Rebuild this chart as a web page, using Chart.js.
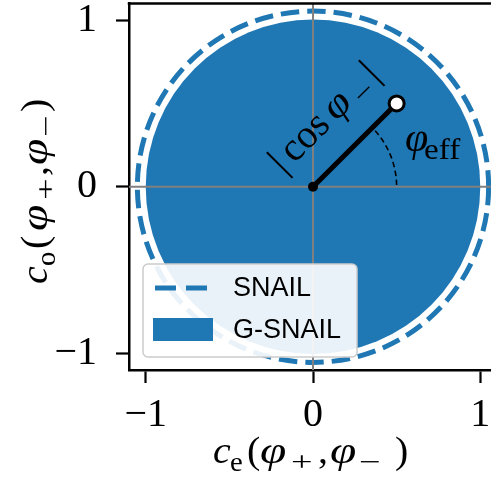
<!DOCTYPE html>
<html>
<head>
<meta charset="utf-8">
<script src="https://cdn.jsdelivr.net/npm/chart.js@4.4.0/dist/chart.umd.min.js"></script>
<style>
html,body{margin:0;padding:0;overflow:hidden;background:#fff;width:491px;height:480px;}
canvas{display:block;margin-top:-7px;}
</style>
</head>
<body>
<canvas id="c" width="510" height="487" style="width:510px;height:487px"></canvas>
<script>
// ---- data ----
const axisMin = -1.1;
const axisMax = 1.1;
const xTicks = [-1, 0, 1];
const yTicks = [-1, 0, 1];
const seriesNames = ['SNAIL', 'G-SNAIL'];
const snailRadius = [1.05];
const gsnailRadius = [1.0];
const vectorX = [0, 0.5];
const vectorY = [0, 0.5];
const arcRadius = [0.5];
const arcAngles = [0, 42];
const cosLabelPos = [0.069, 0.412];
const effLabelPos = [0.55, 0.215];

const OY = 7; // canvas is shifted up by 7px
const BLUE = '#1f77b4';
const MATH = '"Liberation Serif", "DejaVu Serif", serif';
const SANS = '"Liberation Sans", Arial, sans-serif';

function fmt(v){ return v < 0 ? '\u2212' + Math.abs(v) : String(v); }

// runs: {t, i: italic, s: subscript, x: offset along text, k: horizontal scale}
function drawRunsAt(ctx, runs, size){
  ctx.textBaseline = 'alphabetic';
  ctx.textAlign = 'left';
  for (const r of runs){
    const sz = r.s ? size * 0.72 : size;
    ctx.font = (r.i ? 'italic ' : '') + sz + 'px ' + MATH;
    ctx.save();
    ctx.translate(r.x, r.s ? size * 0.2 : 0);
    ctx.scale(r.k || 1.05, 1);
    ctx.fillText(r.t, 0, 0);
    ctx.restore();
  }
}

const xTitle = [{t:'c',i:1,x:0},{t:'e',s:1,x:17},{t:'(',x:34},{t:'\u03c6',i:1,x:47,k:1.25},{t:'+',s:1,x:78,k:1.4},{t:',',x:105},{t:'\u03c6',i:1,x:117,k:1.25},{t:'\u2212',s:1,x:146,k:1.4},{t:')',x:182}];
const yTitle = [{t:'c',i:1,x:0},{t:'o',s:1,x:18},{t:'(',x:35},{t:'\u03c6',i:1,x:53,k:1.25},{t:'+',s:1,x:84,k:1.4},{t:',',x:108},{t:'\u03c6',i:1,x:119,k:1.25},{t:'\u2212',s:1,x:147,k:1.4},{t:')',x:172}];
const cosLabel = [{t:'|',x:-4},{t:'cos',x:11,k:1.0},{t:'\u03c6',i:1,x:71,k:1.1},{t:'\u2212',s:1,x:101,k:1.2},{t:'|',x:126}];
const effLabel = [{t:'\u03c6',i:1,x:0,k:1.05},{t:'eff',s:1,x:19,k:1.15}];

const drawPlugin = {
  id: 'draw',
  beforeDatasetsDraw(chart){
    const {ctx, chartArea: a, scales: {x, y}} = chart;
    const cx = x.getPixelForValue(0), cy = y.getPixelForValue(0);
    ctx.save();
    ctx.beginPath(); ctx.rect(a.left, a.top, a.right-a.left, a.bottom-a.top); ctx.clip();
    const rg = x.getPixelForValue(gsnailRadius[0]) - cx;
    ctx.beginPath(); ctx.arc(cx, cy, rg, 0, Math.PI*2); ctx.fillStyle = BLUE; ctx.fill();
    const rs = x.getPixelForValue(snailRadius[0]) - cx;
    ctx.beginPath(); ctx.arc(cx, cy, rs, 0, Math.PI*2);
    ctx.strokeStyle = BLUE; ctx.lineWidth = 5; ctx.setLineDash([18.5, 8]); ctx.stroke();
    ctx.setLineDash([]);
    ctx.strokeStyle = '#808080'; ctx.lineWidth = 2;
    ctx.beginPath(); ctx.moveTo(a.left, cy); ctx.lineTo(a.right, cy); ctx.stroke();
    ctx.beginPath(); ctx.moveTo(cx, a.top); ctx.lineTo(cx, a.bottom); ctx.stroke();
    const ra = x.getPixelForValue(arcRadius[0]) - cx;
    ctx.beginPath();
    ctx.arc(cx, cy, ra, -arcAngles[1]*Math.PI/180, -arcAngles[0]*Math.PI/180);
    ctx.strokeStyle = '#000'; ctx.lineWidth = 1.6; ctx.setLineDash([5.5, 3.5]); ctx.stroke();
    ctx.setLineDash([]);
    ctx.restore();
  },
  afterDatasetsDraw(chart){
    const {ctx, chartArea: a, scales: {x, y}} = chart;
    ctx.save();
    ctx.fillStyle = '#000';
    // |cos phi_-|
    ctx.save();
    ctx.translate(x.getPixelForValue(cosLabelPos[0]), y.getPixelForValue(cosLabelPos[1]));
    ctx.rotate(-Math.PI/4);
    ctx.translate(-65, 11);
    drawRunsAt(ctx, cosLabel, 40);
    ctx.restore();
    // phi_eff
    ctx.save();
    ctx.translate(x.getPixelForValue(effLabelPos[0]), y.getPixelForValue(effLabelPos[1]));
    drawRunsAt(ctx, effLabel, 40);
    ctx.restore();
    // legend
    const lx = a.left + 14, ly = a.bottom - 106, lw = 214, lh = 93;
    ctx.beginPath();
    ctx.roundRect(lx, ly, lw, lh, 5);
    ctx.fillStyle = 'rgba(255,255,255,0.9)'; ctx.fill();
    ctx.strokeStyle = '#cccccc'; ctx.lineWidth = 1.5; ctx.stroke();
    ctx.beginPath(); ctx.moveTo(lx+12, ly+24); ctx.lineTo(lx+69, ly+24);
    ctx.strokeStyle = BLUE; ctx.lineWidth = 5; ctx.setLineDash([21, 10]); ctx.stroke();
    ctx.setLineDash([]);
    ctx.fillStyle = BLUE; ctx.fillRect(lx+10, ly+54, 60, 23);
    ctx.fillStyle = '#000'; ctx.font = '27px ' + SANS;
    ctx.textAlign = 'left'; ctx.textBaseline = 'middle';
    ctx.fillText(seriesNames[0], lx+90, ly+25);
    ctx.fillText(seriesNames[1], lx+90, ly+67);
    // axis titles
    ctx.save();
    ctx.translate(213, 463 + OY);
    drawRunsAt(ctx, xTitle, 38);
    ctx.restore();
    ctx.save();
    ctx.translate(47, 284 + OY);
    ctx.rotate(-Math.PI/2);
    drawRunsAt(ctx, yTitle, 38);
    ctx.restore();
    ctx.restore();
  },
  afterDraw(chart){
    const {ctx, chartArea: a} = chart;
    ctx.save();
    ctx.strokeStyle = '#000'; ctx.lineWidth = 2.5;
    ctx.beginPath(); ctx.moveTo(a.left - 1.25, a.top); ctx.lineTo(a.right + 1.25, a.top); ctx.stroke();
    ctx.beginPath(); ctx.moveTo(a.right, a.top); ctx.lineTo(a.right, a.bottom); ctx.stroke();
    ctx.restore();
  }
};

const tickFont = {family: MATH, size: 40};

new Chart(document.getElementById('c'), {
  type: 'scatter',
  data: {
    datasets: [{
      data: vectorX.map((v, i) => ({x: v, y: vectorY[i]})),
      showLine: true,
      borderColor: '#000',
      borderWidth: 5,
      pointRadius: [5, 7.5],
      pointHoverRadius: [5, 7.5],
      pointBackgroundColor: ['#000', '#fff'],
      pointBorderColor: '#000',
      pointBorderWidth: [0, 3],
      clip: false
    }]
  },
  options: {
    responsive: false,
    animation: false,
    devicePixelRatio: 1,
    layout: {padding: {left: 0, top: 0, right: 13, bottom: 0}},
    plugins: {legend: {display: false}, tooltip: {enabled: false}},
    scales: {
      x: {
        type: 'linear', min: axisMin, max: axisMax,
        afterBuildTicks(s){ s.ticks = xTicks.map(v => ({value: v})); },
        afterFit(s){ s.height = 110; s.paddingLeft = 0; s.paddingRight = 0; },
        grid: {display: true, drawOnChartArea: false, drawTicks: true, tickLength: 13, tickWidth: 2.2, tickColor: '#000'},
        border: {display: true, color: '#000', width: 2.5},
        ticks: {font: tickFont, color: '#000', padding: 8, maxRotation: 0, callback: v => fmt(v)}
      },
      y: {
        type: 'linear', min: axisMin, max: axisMax,
        afterBuildTicks(s){ s.ticks = yTicks.map(v => ({value: v})); },
        afterFit(s){ s.width = 129; s.paddingTop = 0; s.paddingBottom = 0; },
        grid: {display: true, drawOnChartArea: false, drawTicks: true, tickLength: 13, tickWidth: 2.2, tickColor: '#000'},
        border: {display: true, color: '#000', width: 2.5},
        ticks: {font: tickFont, color: '#000', padding: 19, callback: v => fmt(v)}
      }
    }
  },
  plugins: [drawPlugin]
});
</script>
</body>
</html>
